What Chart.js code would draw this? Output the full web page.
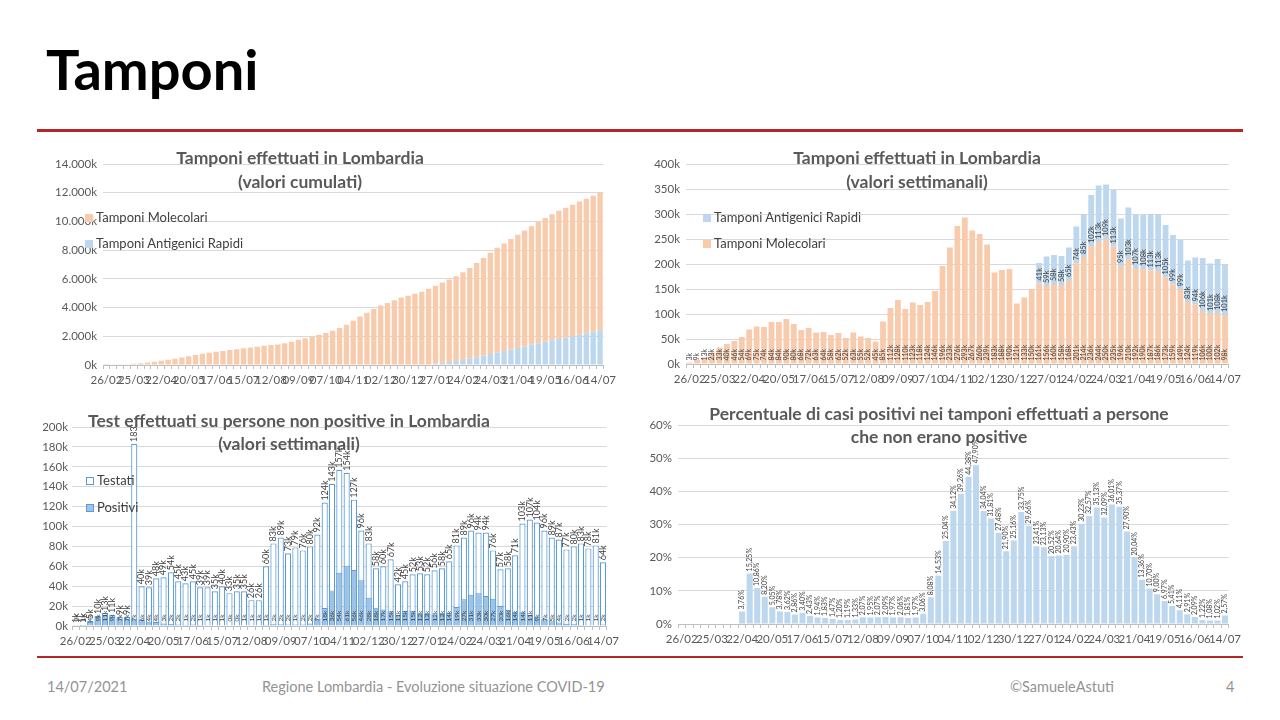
<!DOCTYPE html>
<html>
<head>
<meta charset="utf-8">
<script src="https://cdn.jsdelivr.net/npm/chart.js@4.4.0/dist/chart.umd.min.js"></script>
<style>
body { margin: 0; width: 1280px; height: 720px; background: #fff; position: relative; overflow: hidden; font-family: Lato, 'Open Sans', sans-serif; }
#titolo { position: absolute; left: 46px; top: 41px; font-size: 56px; font-weight: bold; color: #000; line-height: 1; }
.riga { position: absolute; left: 37px; width: 1206px; background: #b3262a; }
.ct { position: absolute; text-align: center; font-weight: bold; color: #595959; font-size: 17.5px; line-height: 24px; transform: translateX(-50%); white-space: nowrap; z-index: 2; }
.leg { position: absolute; font-size: 13px; line-height: 14px; color: #404040; white-space: nowrap; z-index: 2; }
.leg i { display: inline-block; width: 8px; height: 8px; margin-right: 3px; box-sizing: border-box; }
.foot { position: absolute; top: 678px; font-size: 14.5px; color: #939393; }
canvas { position: absolute; }
</style>
</head>
<body>
<div id="titolo">Tamponi</div>
<div class="riga" style="top:129px;height:3px"></div>
<div class="riga" style="top:656px;height:2px"></div>

<canvas id="c1" width="582" height="243" style="left:38px;top:150px"></canvas>
<canvas id="c2" width="605" height="243" style="left:640px;top:150px"></canvas>
<canvas id="c3" width="585" height="245" style="left:38px;top:410px"></canvas>
<canvas id="c4" width="605" height="248" style="left:640px;top:405px"></canvas>

<div class="ct" style="left:300px;top:146px">Tamponi effettuati in Lombardia<br>(valori cumulati)</div>
<div class="ct" style="left:917px;top:146px">Tamponi effettuati in Lombardia<br>(valori settimanali)</div>
<div class="ct" style="left:289px;top:409px;line-height:23px">Test effettuati su persone non positive in Lombardia<br>(valori settimanali)</div>
<div class="ct" style="left:939px;top:402px;line-height:23px">Percentuale di casi positivi nei tamponi effettuati a persone<br>che non erano positive</div>

<div class="leg" style="left:85px;top:210px"><i style="background:#f8cbad"></i>Tamponi Molecolari</div>
<div class="leg" style="left:85px;top:236px"><i style="background:#bdd7ee"></i>Tamponi Antigenici Rapidi</div>
<div class="leg" style="left:703px;top:210px"><i style="background:#bdd7ee"></i>Tamponi Antigenici Rapidi</div>
<div class="leg" style="left:703px;top:236px"><i style="background:#f8cbad"></i>Tamponi Molecolari</div>
<div class="leg" style="left:86px;top:473px"><i style="background:#fff;border:1px solid #5b9bd5"></i>Testati</div>
<div class="leg" style="left:86px;top:500px"><i style="background:#9dc3e6;border:1px solid #5b9bd5"></i>Positivi</div>

<div class="foot" style="left:47px">14/07/2021</div>
<div class="foot" style="left:262px">Regione Lombardia - Evoluzione situazione COVID-19</div>
<div class="foot" style="left:1010px">©SamueleAstuti</div>
<div class="foot" style="left:1226px">4</div>

<script>
// settimane (inizio settimana)
const settimane = ['26/02','04/03','11/03','18/03','25/03','01/04','08/04','15/04','22/04','29/04',
    '06/05','13/05','20/05','27/05','03/06','10/06','17/06','24/06','01/07','08/07',
    '15/07','22/07','29/07','05/08','12/08','19/08','26/08','02/09','09/09','16/09',
    '23/09','30/09','07/10','14/10','21/10','28/10','04/11','11/11','18/11','25/11',
    '02/12','09/12','16/12','23/12','30/12','06/01','13/01','20/01','27/01','03/02',
    '10/02','17/02','24/02','03/03','10/03','17/03','24/03','31/03','07/04','14/04',
    '21/04','28/04','05/05','12/05','19/05','26/05','02/06','09/06','16/06','23/06',
    '30/06','07/07','14/07'];

// tamponi cumulati (migliaia)
const molecolariCum = [3,12,25,48,81,121,167,221,290,365, 439,523,607,697,777,845,917,980,1044,1102,
    1164,1216,1279,1334,1386,1431,1516,1628,1756,1866, 1989,2107,2231,2377,2573,2806,3082,3375,3642,3902,
    4141,4324,4512,4702,4823,4956,5106,5267,5423,5583, 5741,5909,6110,6324,6560,6804,7054,7289,7485,7695,
    7887,8077,8264,8450,8623,8782,8931,9055,9174,9280, 9380,9482,9580];
const antigeniciCum = new Array(47).fill(null).concat([41,100,158,216,281,355,440,542,655,764,877,972,1075,
    1182,1290,1403,1516,1621,1720,1819,1902,1996,2102,2203,2311,2412]);

// tamponi settimanali (migliaia)
const molecolari = [3,9,13,23,33,40,46,54,69,75, 74,84,84,90,80,68,72,63,64,58,
    62,52,63,55,52,45,85,112,128,110, 123,118,124,146,196,233,276,293,267,260,
    239,183,188,190,121,133,150,161,156,160, 158,168,201,214,236,244,250,235,196,210,
    192,190,187,186,173,159,149,124,119,106, 100,102,98];
const antigenici = new Array(47).fill(null).concat([41,59,58,58,65,74,85,102,113,109,113,95,103,
    107,108,113,113,105,99,99,83,94,106,101,108,101]);

// persone testate / positive (migliaia)
const testati = [1,1,5,10,13,11,9,9,183,40, 39,48,49,54,45,43,45,39,39,35,
    40,33,35,35,26,26,60,83,89,73, 79,76,80,92,124,143,157,154,127,96,
    83,58,60,67,42,45,52,53,52,56, 58,65,81,89,96,94,94,76,57,58,
    71,103,107,104,96,89,87,77,80,83, 78,81,64];
const positivi = [0.4,0.9,4,9,11,9,7,7,6.9,6.1, 4.2,3.9,2.5,2.0,1.6,1.2,1.5,0.9,0.8,0.6,
    0.6,0.4,0.4,0.5,0.5,0.5,1.2,1.7,1.8,1.5, 1.4,1.5,2.4,7.4,18,35.8,53.6,60.5,56.4,46,
    28.3,18.4,16.5,14.7,10.6,15.2,15.4,12.4,12,11.5, 12,13.6,19,26.9,31.3,33,30.2,27.4,20.2,16.2,
    14.2,13.8,11.4,9.4,6.7,4.8,3.6,2.2,1.7,1.0, 0.8,0.8,1.6];

// percentuale positivi
const percentuale = [null,null,null,null,null,null,null,null,3.76,15.25,
    10.86,8.20,5.05,3.78,3.62,2.86,3.40,2.43,1.94,1.83, 1.47,1.20,1.19,1.33,2.07,1.95,2.07,2.09,1.97,2.06,
    1.81,1.97,3.06,8.08,14.53,25.04,34.12,39.26,44.38,47.90, 34.04,31.81,27.48,21.90,25.16,33.75,29.66,23.41,23.13,20.52,
    20.64,20.90,23.43,30.23,32.57,35.13,32.09,36.01,35.37,27.90, 20.04,13.36,10.70,9.00,6.97,5.41,4.11,2.91,2.09,1.22,
    1.08,1.02,2.57];

Chart.defaults.font.family = 'Lato';
Chart.defaults.color = '#595959';

function migliaia(v) {
    if (v === 0) return '0k';
    if (v < 1000) return v + 'k';
    const r = String(v % 1000).padStart(3, '0');
    return Math.floor(v / 1000) + '.' + r + 'k';
}

// etichette ruotate sulle barre
function etichette(specs) {
    return {
        id: 'etichette',
        afterDatasetsDraw(chart) {
            const ctx = chart.ctx;
            specs.forEach(s => {
                const meta = chart.getDatasetMeta(s.ds);
                const dati = chart.data.datasets[s.ds].data;
                ctx.save();
                if (s.clip) {
                    ctx.beginPath();
                    ctx.rect(0, chart.chartArea.top - 1, chart.width, chart.height);
                    ctx.clip();
                }
                ctx.font = s.font;
                ctx.fillStyle = '#404040';
                ctx.textAlign = 'left';
                ctx.textBaseline = 'middle';
                meta.data.forEach((bar, i) => {
                    const v = dati[i];
                    if (v == null) return;
                    const p = bar.getProps(['x', 'y', 'base'], true);
                    const y0 = s.pos === 'base' ? p.base - s.off : p.y - s.off;
                    ctx.save();
                    ctx.translate(p.x, y0);
                    ctx.rotate(-Math.PI / 2);
                    ctx.fillText(s.fmt(v), 0, 0);
                    ctx.restore();
                });
                ctx.restore();
            });
        }
    };
}

function opzioni(o) {
    return {
        responsive: false,
        animation: false,
        layout: { padding: { top: o.top, right: o.right, left: 0, bottom: 0 } },
        plugins: { legend: { display: false }, tooltip: { enabled: false } },
        scales: {
            x: {
                stacked: true,
                grid: { display: true, drawOnChartArea: false, tickLength: 4, color: '#bfbfbf' },
                border: { color: '#bfbfbf' },
                ticks: {
                    autoSkip: false, maxRotation: 0, minRotation: 0, padding: 4,
                    color: '#595959', font: { size: 11.5 },
                    callback: (v, i) => i % 4 === 0 ? settimane[i] : ''
                },
                afterFit: s => { s.height = o.xh; }
            },
            y: {
                stacked: o.ystack,
                min: 0, max: o.max,
                ticks: { stepSize: o.step, color: '#595959', font: { size: 11.5 }, padding: o.ypad || 6, callback: o.fmt },
                grid: { color: '#d9d9d9', drawTicks: false },
                border: { display: false },
                afterFit: s => { s.width = o.yw; }
            }
        }
    };
}

// Grafico 1: cumulati
new Chart(document.getElementById('c1'), {
    type: 'bar',
    data: {
        labels: settimane,
        datasets: [
            { label: 'Tamponi Antigenici Rapidi', data: antigeniciCum, backgroundColor: '#bdd7ee', barPercentage: 0.78, categoryPercentage: 1 },
            { label: 'Tamponi Molecolari', data: molecolariCum, backgroundColor: '#f8cbad', barPercentage: 0.78, categoryPercentage: 1 }
        ]
    },
    options: opzioni({ top: 14, right: 3, xh: 28, yw: 65, max: 14000, step: 2000, ystack: true, fmt: v => migliaia(v) })
});

// Grafico 2: settimanali
new Chart(document.getElementById('c2'), {
    type: 'bar',
    data: {
        labels: settimane,
        datasets: [
            { label: 'Tamponi Molecolari', data: molecolari, backgroundColor: '#f8cbad', barPercentage: 0.78, categoryPercentage: 1 },
            { label: 'Tamponi Antigenici Rapidi', data: antigenici, backgroundColor: '#bdd7ee', barPercentage: 0.78, categoryPercentage: 1 }
        ]
    },
    options: opzioni({ top: 14, right: 5, xh: 29, yw: 46, max: 400, step: 50, ystack: true, fmt: v => v + 'k' }),
    plugins: [etichette([
        { ds: 0, pos: 'base', off: 3, font: '7px Lato', fmt: v => v + 'k' },
        { ds: 1, pos: 'base', off: 3, font: '7.5px Lato', fmt: v => v + 'k' }
    ])]
});

// Grafico 3: persone testate
new Chart(document.getElementById('c3'), {
    type: 'bar',
    data: {
        labels: settimane,
        datasets: [
            { label: 'Positivi', data: positivi, backgroundColor: '#9dc3e6', borderColor: '#5b9bd5', borderWidth: 1, barPercentage: 0.84, categoryPercentage: 1 },
            { label: 'Testati', data: testati, backgroundColor: '#ffffff', borderColor: '#5b9bd5', borderWidth: 1.2, barPercentage: 0.84, categoryPercentage: 1 }
        ]
    },
    options: opzioni({ top: 17, right: 3, xh: 29, yw: 34, max: 200, step: 20, ystack: false, ypad: 4, fmt: v => v + 'k' }),
    plugins: [etichette([
        { ds: 0, pos: 'base', off: 4, font: '6.5px Lato', fmt: v => Math.round(v) + 'k' },
        { ds: 1, pos: 'end', off: 2, font: '9px Lato', clip: true, fmt: v => v + 'k' }
    ])]
});

// Grafico 4: percentuale positivi
new Chart(document.getElementById('c4'), {
    type: 'bar',
    data: {
        labels: settimane,
        datasets: [
            { label: 'Percentuale positivi', data: percentuale, backgroundColor: '#bdd7ee', barPercentage: 0.8, categoryPercentage: 1 }
        ]
    },
    options: opzioni({ top: 20, right: 5, xh: 29, yw: 38, max: 60, step: 10, ystack: false, fmt: v => v + '%' }),
    plugins: [etichette([
        { ds: 0, pos: 'end', off: 2, font: '7px Lato', fmt: v => v.toFixed(2).replace('.', ',') + '%' }
    ])]
});
</script>
</body>
</html>
